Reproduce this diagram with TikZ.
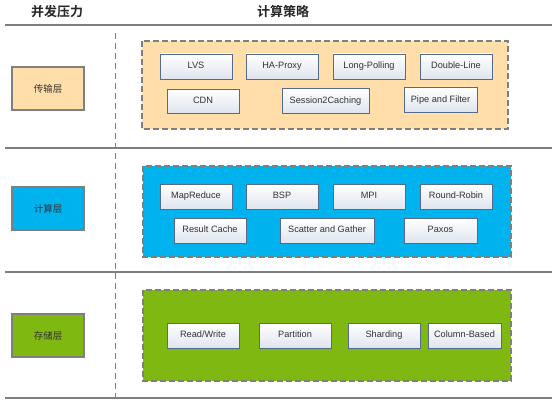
\documentclass[tikz,border=0pt]{standalone}
\usepackage{fontspec}
\setmainfont{Liberation Sans}
\newfontfamily\cjk{Noto Sans CJK SC}
\newfontfamily\cjkb{Noto Sans CJK SC Bold}
\usetikzlibrary{shadows}
\definecolor{peach}{HTML}{FFDEAA}
\definecolor{cyanb}{HTML}{00B2EE}
\definecolor{leaf}{HTML}{80B812}
\definecolor{rule}{HTML}{7F7F7F}
\definecolor{bordr}{HTML}{566B8C}
\definecolor{txt}{HTML}{333333}
\definecolor{itembot}{HTML}{DFE4EE}
\tikzset{
  hdr/.style={font=\cjkb\fontsize{13}{13}\selectfont, text=black!85},
  rulel/.style={draw=rule, line width=2pt},
  layerbox/.style={draw=rule, line width=1.1pt, font=\cjk\fontsize{9.5}{9.5}\selectfont, text=txt,
     drop shadow={shadow xshift=0.8pt, shadow yshift=-0.8pt, opacity=0.35}},
  group/.style={draw=rule, line width=1.1pt, dash pattern=on 6pt off 3pt},
  item/.style={draw=bordr, line width=0.9pt, top color=white, bottom color=itembot,
     font=\fontsize{9.2}{9.2}\selectfont, text=txt, text height=6.6pt, text depth=1.9pt,
     drop shadow={shadow xshift=0.8pt, shadow yshift=-0.8pt, opacity=0.3}},
}
\newcommand{\itembox}[6]{% name, x1,y1,x2,y2, text
  \node[item, minimum width=#4pt-#2pt, minimum height=#5pt-#3pt, inner sep=0pt] (#1) at ({(#2+#4)/2},{(#3+#5)/2}) {#6};}
\begin{document}
\begin{tikzpicture}[x=1pt,y=-1pt]
\useasboundingbox (0,0) rectangle (554,404);
% headers
\node[hdr] (h1) at (57,12) {并发压力};
\node[hdr] (h2) at (283,12) {计算策略};
% rules
\coordinate (r1a) at (5,25.5); \coordinate (r1b) at (552,25.5);
\coordinate (r2a) at (5,147.5); \coordinate (r2b) at (552,147.5);
\coordinate (r3a) at (5,271.5); \coordinate (r3b) at (552,271.5);
\coordinate (r4a) at (5,397.5); \coordinate (r4b) at (552,397.5);
\draw[rulel] (r1a) -- (r1b);
\draw[rulel] (r2a) -- (r2b);
\draw[rulel] (r3a) -- (r3b);
\draw[rulel] (r4a) -- (r4b);
\coordinate (va) at (115.5,33); \coordinate (vb) at (115.5,401);
\draw[draw=rule, line width=1.1pt, dash pattern=on 6pt off 4pt] (va) -- (vb);
% layer boxes
\node[layerbox, fill=peach, minimum width=72pt, minimum height=43pt] (l1) at (48,88.5) {传输层};
\node[layerbox, fill=cyanb, minimum width=72pt, minimum height=43pt] (l2) at (48,208.5) {计算层};
\node[layerbox, fill=leaf, minimum width=72pt, minimum height=43pt] (l3) at (48,335.5) {存储层};
% groups
\draw[group, fill=peach] (142,41) rectangle (508,129);
\draw[group, fill=cyanb] (143,166) rectangle (511,257);
\draw[group, fill=leaf] (143,290) rectangle (511,381);
% transport items
\itembox{lvs}{160}{54}{232}{79}{LVS}
\itembox{ha}{246}{54}{318}{79}{HA-Proxy}
\itembox{lp}{333}{54}{405}{79}{Long-Polling}
\itembox{dl}{420}{54}{492}{79}{Double-Line}
\itembox{cdn}{167}{89}{239}{113}{CDN}
\itembox{s2c}{282}{88.5}{369}{113}{Session2Caching}
\itembox{pf}{404}{87.5}{477}{112}{Pipe and Filter}
% compute items
\itembox{mr}{160}{184}{232}{209}{MapReduce}
\itembox{bsp}{246}{184}{318}{209}{BSP}
\itembox{mpi}{333}{184}{405}{209}{MPI}
\itembox{rr}{420}{184}{492}{209}{Round-Robin}
\itembox{rc}{174}{218}{246}{243}{Result Cache}
\itembox{sg}{280}{218}{374}{243}{Scatter and Gather}
\itembox{px}{404}{218}{477}{243}{Paxos}
% storage items
\itembox{rw}{167}{323}{239}{348}{Read/Write}
\itembox{pt}{259}{323}{331}{348}{Partition}
\itembox{sh}{348}{323}{420}{348}{Sharding}
\itembox{cb}{428}{323}{501}{348}{Column-Based}
\end{tikzpicture}
\end{document}
